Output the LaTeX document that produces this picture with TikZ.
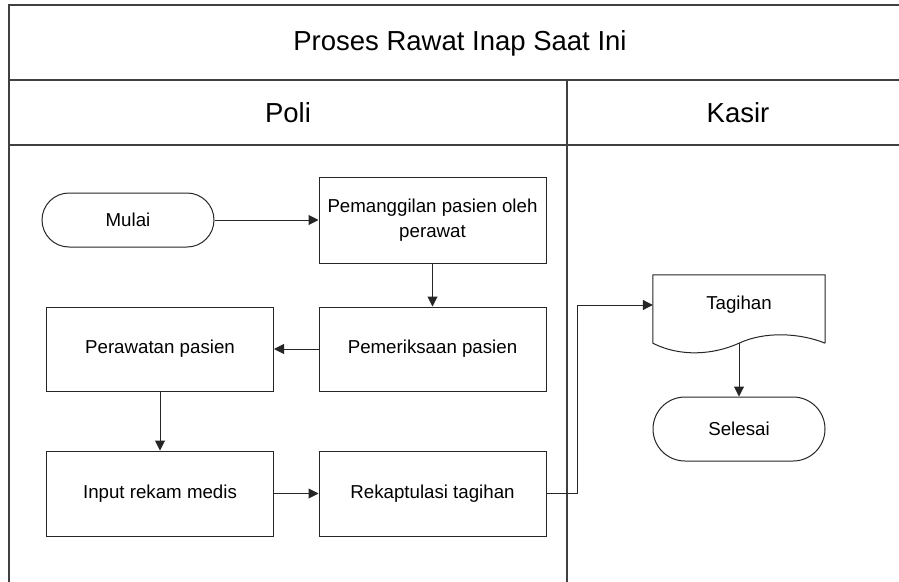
\documentclass[tikz,border=0pt]{standalone}
\usepackage{fontspec}
\setmainfont{Liberation Sans}
\usetikzlibrary{arrows.meta}

\begin{document}
\begin{tikzpicture}[x=1pt,y=-1pt,
  frame/.style={draw=black!75, line width=1.3pt},
  procbox/.style={draw=black!85, line width=1pt, minimum width=227pt, minimum height=85pt,
                  align=center, font=\fontsize{18.7}{25}\selectfont, inner sep=2pt},
  terminal/.style={draw=black!85, line width=1pt, rounded corners=27pt, minimum width=172pt,
                   font=\fontsize{18.7}{25}\selectfont},
  flow/.style={draw=black!85, line width=1pt, -{Triangle[length=10pt,width=10pt]}},
  heading/.style={font=\fontsize{27.5}{32}\selectfont}
]
\useasboundingbox (0,0) rectangle (899,581);
\fill[white] (0,0) rectangle (899,581);

% swimlane frame
\draw[frame] (905,5) -- (9,5) -- (9,590);
\draw[frame] (9,80) -- (905,80);
\draw[frame] (9,145) -- (905,145);
\draw[frame] (567,80) -- (567,590);

\node[heading] (title) at (460,43) {Proses Rawat Inap Saat Ini};
\node[heading] (poli) at (288,113) {Poli};
\node[heading] (kasir) at (738,113) {Kasir};

% lane: Poli
\node[terminal, minimum height=54pt] (mulai) at (128,220) {Mulai};
\node[procbox, minimum height=86pt] (pang) at (432.5,220) {Pemanggilan pasien oleh\\perawat};
\node[procbox, minimum height=84pt] (periksa) at (432.5,349) {Pemeriksaan pasien};
\node[procbox, minimum height=84pt] (rawat) at (160,349) {Perawatan pasien};
\node[procbox] (input) at (160,493.5) {Input rekam medis};
\node[procbox] (rekap) at (432.5,493.5) {Rekaptulasi tagihan};

% lane: Kasir
\node[minimum width=172pt, minimum height=68pt, inner sep=0pt] (tagihan) at (739,309) {};
\node[font=\fontsize{18.7}{25}\selectfont] (tagihantext) at (739,305) {Tagihan};
\draw[draw=black!85, line width=1pt] (tagihan.south east) -- (tagihan.north east)
  -- (tagihan.north west) -- (tagihan.south west)
  .. controls (680,357) and (713,355) .. (tagihan.south)
  .. controls (765,331) and (800,333) .. (tagihan.south east);
\node[terminal, minimum height=64pt, rounded corners=32pt] (selesai) at (739,429) {Selesai};

% connectors
\draw[flow] (mulai.east) -- (pang.west);
\draw[flow] (pang.south) -- (periksa.north);
\draw[flow] (periksa.west) -- (rawat.east);
\draw[flow] (rawat.south) -- (input.north);
\draw[flow] (input.east) -- (rekap.west);
\coordinate (tagin) at ([yshift=4pt]tagihan.west);
\draw[flow] (rekap.east) -- ++(31,0) |- (tagin);
\draw[flow] (tagihan.south) -- (selesai.north);
\end{tikzpicture}
\end{document}
